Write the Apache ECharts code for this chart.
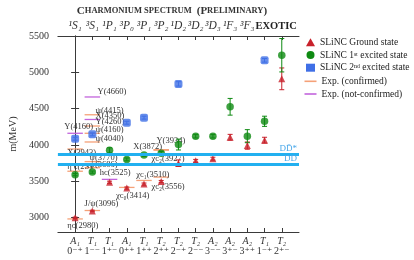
<!DOCTYPE html>
<html><head><meta charset="utf-8">
<script src="https://cdn.jsdelivr.net/npm/echarts@6/dist/echarts.min.js"></script>
<style>html,body{margin:0;padding:0;background:#fff}#c{width:414px;height:260px}</style>
</head><body><div id="c"></div>
<script>
// ---- data ----
const categories = [0,1,2,3,4,5,6,7,8,9,10,11,12];
const irreps = ['A₁','T₁','T₁','A₁','T₁','T₂','T₂','T₂','A₂','A₂','A₂','T₁','T₂'];
const jpc = ['0⁻⁺','1⁻⁻','1⁺⁻','0⁺⁺','1⁺⁺','2⁺⁺','2⁻⁺','2⁻⁻','3⁻⁻','3⁺⁻','3⁺⁺','1⁻⁺','2⁺⁻'];
const spectro = ['¹S₁','³S₁','¹P₁','³P₀','³P₁','³P₂','¹D₂','³D₂','³D₃','¹F₃','³F₃'];
const exoticLabel = 'EXOTIC';
const exoticPos = 11.5;
const yTicks = [3000,3500,4000,4500,5000,5500];

const groundMass = [2995,3090,3485,3405,3460,3495,3748,3780,3810,4105,3990,4065,4910];
const groundErr  = [10,10,15,15,15,15,45,20,20,40,50,40,150];
const exc1Mass = [3590,3625,3925,3800,3862,3885,4005,4120,4120,4525,4120,4325,5235];
const exc1Err  = [15,15,35,20,20,25,75,25,25,115,90,70,230];
const exc2Cat  = [0,1,3,4,6,11];
const exc2Mass = [4085,4145,4305,4375,4840,5165];
const exc2Err  = [20,20,20,20,30,25];

const expCat  = [0,0,0,0,1,1,1,1,1,1,1,1,1,2,3,4,4,5,5,5];
const expMass = [2980,3637,3943,4160,3096,3686,3770,4040,4160,4260,4350,4415,4660,3525,3414,3510,3872,3556,3927,3934];
const expName = ['ηc(2980)','η′c(2S)','X(3943)','Y(4160)','J/ψ(3096)','ψ(3686)','ψ(3770)','ψ(4040)','ψ(4160)','Y(4260)','X(4350)','ψ(4415)','Y(4660)','hc(3525)','χc₀(3414)','χc₁(3510)','X(3872)','χc₂(3556)','χc₂(3927)','Y(3934)'];
const expConfirmed = [1,1,1,0,1,1,1,1,1,1,0,1,0,0,1,1,1,1,1,1];

const thresholdMass = [3872,3730];
const thresholdName = ['DD̄*','DD̄'];

// ---- layout (label offsets in px, relative to left end of each line) ----
const expLabelDx = [0,0,0,-3,0,5,5,11,11,11,11,11,13,-2,-3,0,-3,-2,-2,3];
const expLabelDy = [7,-4,4,-7,-7,-3,-4,-3.5,-3.5,-4,-3.5,-3.5,-5,-6.5,8.5,-5.5,-7,10,9,-9];

const FONT = '"Liberation Serif", "DejaVu Serif", serif';
const C_RED = '#c8212b', C_GREEN = '#0e8a12', C_BLUE = '#3f6fe6', C_ORANGE = '#f5a178', C_PURPLE = '#c264dc', C_DD = '#22b0f0';
const AXIS = '#3a3a3a';

function errRender(params, api) {
  const x = api.value(0), m = api.value(1), e = api.value(2);
  const t = api.coord([x, m + e]), b = api.coord([x, m - e]);
  const st = { stroke: api.visual('color'), lineWidth: 1 };
  return { type: 'group', children: [
    { type: 'line', shape: { x1: t[0], y1: t[1], x2: b[0], y2: b[1] }, style: st },
    { type: 'line', shape: { x1: t[0]-2.5, y1: t[1], x2: t[0]+2.5, y2: t[1] }, style: st },
    { type: 'line', shape: { x1: b[0]-2.5, y1: b[1], x2: b[0]+2.5, y2: b[1] }, style: st }
  ]};
}
function expRender(params, api) {
  const c = api.value(0), m = api.value(1), k = api.value(2);
  const p1 = api.coord([c - 0.45, m]), p2 = api.coord([c + 0.45, m]);
  return { type: 'group', children: [
    { type: 'line', shape: { x1: p1[0], y1: p1[1], x2: p2[0], y2: p2[1] }, style: { stroke: api.visual('color'), lineWidth: 1.3 } },
    { type: 'text', x: p1[0] + expLabelDx[k], y: p1[1] + expLabelDy[k], z2: 5,
      style: { text: expName[k], fill: '#333', font: '8.5px ' + FONT, align: 'left', verticalAlign: 'middle' } }
  ]};
}
function expData(flag) {
  const out = [];
  expCat.forEach((c, i) => { if (expConfirmed[i] === flag) out.push([c, expMass[i], i]); });
  return out;
}

const chart = echarts.init(document.getElementById('c'), null, { renderer: 'canvas' });
const axisCommon = {
  type: 'value', min: -1, max: 13,
  axisLine: { show: true, lineStyle: { color: AXIS, width: 1 } },
  splitLine: { show: false },
  axisTick: { inside: true, length: 4, lineStyle: { color: AXIS }, customValues: categories }
};
const legendText = { fontFamily: FONT, fontSize: 9.5, color: '#222', lineHeight: 11 };
chart.setOption({
  animation: false,
  title: {
    left: 172, top: 2, textAlign: 'center', padding: 0,
    text: '{b|C}{s|HARMONIUM SPECTRUM} {b|(P}{s|RELIMINARY}{b|)}',
    textStyle: { rich: {
      b: { fontFamily: FONT, fontSize: 11, color: '#333' },
      s: { fontFamily: FONT, fontSize: 8.5, color: '#333' }
    } }
  },
  grid: { left: 45, right: 115, top: 36, bottom: 28 },
  legend: [
    { orient: 'vertical', left: 306, top: 36.8, padding: 0, itemWidth: 9, itemHeight: 8, itemGap: 1.7,
      textStyle: legendText,
      data: [{ name: 'SLiNC Ground state', icon: 'triangle' },
             { name: 'SLiNC 1ˢᵗ excited state', icon: 'circle' },
             { name: 'SLiNC 2ⁿᵈ excited state', icon: 'rect' }] },
    { orient: 'vertical', left: 304.5, top: 75.8, padding: 0, itemWidth: 12, itemHeight: 1.6, itemGap: 1.7, icon: 'rect',
      textStyle: legendText,
      data: ['Exp. (confirmed)', 'Exp. (not-confirmed)'] }
  ],
  xAxis: [
    Object.assign({}, axisCommon, { position: 'bottom',
      axisLabel: { customValues: categories, margin: 4,
        formatter: v => `{i|${irreps[v]}}\n{n|${jpc[v]}}`,
        rich: { i: { fontFamily: FONT, fontStyle: 'italic', fontSize: 10, color: '#333', lineHeight: 10 },
                n: { fontFamily: FONT, fontSize: 10, color: '#333', lineHeight: 10 } } } }),
    Object.assign({}, axisCommon, { position: 'top',
      axisLabel: { customValues: categories.slice(0, 11), margin: 4,
        formatter: v => spectro[v],
        fontFamily: FONT, fontStyle: 'italic', fontSize: 11.5, color: '#333' } })
  ],
  yAxis: [
    { type: 'value', min: 2800, max: 5500, position: 'left',
      name: 'm(MeV)', nameLocation: 'middle', nameGap: 32,
      nameTextStyle: { fontFamily: FONT, fontSize: 10, color: '#333' },
      axisLine: { show: true, lineStyle: { color: AXIS } }, splitLine: { show: false },
      axisTick: { inside: true, length: 4, lineStyle: { color: AXIS }, customValues: yTicks },
      axisLabel: { customValues: yTicks, margin: 9, fontFamily: FONT, fontSize: 10, color: '#333', formatter: v => String(v) } },
    { type: 'value', min: 2800, max: 5500, position: 'right',
      axisLine: { show: true, lineStyle: { color: AXIS } }, splitLine: { show: false },
      axisTick: { inside: true, length: 4, lineStyle: { color: AXIS }, customValues: yTicks },
      axisLabel: { show: false } }
  ],
  series: [
    { name: 'thresholds', type: 'line', data: [], z: 1,
      markLine: { silent: true, symbol: 'none',
        lineStyle: { color: C_DD, width: 3, type: 'solid' },
        label: { position: 'insideEndTop', distance: [2, 1], color: '#4aa8ea', fontFamily: FONT, fontSize: 9,
                 formatter: p => thresholdName[thresholdMass.indexOf(p.value)] },
        data: thresholdMass.map(m => ({ yAxis: m })) } },
    { name: 'Exp. (confirmed)', type: 'custom', z: 2, itemStyle: { color: C_ORANGE },
      renderItem: expRender, encode: { x: 0, y: 1 }, data: expData(1) },
    { name: 'Exp. (not-confirmed)', type: 'custom', z: 2, itemStyle: { color: C_PURPLE },
      renderItem: expRender, encode: { x: 0, y: 1 }, data: expData(0) },
    { name: 'SLiNC Ground state', type: 'custom', z: 3, itemStyle: { color: C_RED }, renderItem: errRender,
      encode: { x: 0, y: 1 }, data: categories.map((c, i) => [c, groundMass[i], groundErr[i]]) },
    { name: 'SLiNC 1ˢᵗ excited state', type: 'custom', z: 3, itemStyle: { color: C_GREEN }, renderItem: errRender,
      encode: { x: 0, y: 1 }, data: categories.map((c, i) => [c, exc1Mass[i], exc1Err[i]]) },
    { name: 'SLiNC 2ⁿᵈ excited state', type: 'custom', z: 3, itemStyle: { color: C_BLUE }, renderItem: errRender,
      encode: { x: 0, y: 1 }, data: exc2Cat.map((c, i) => [c, exc2Mass[i], exc2Err[i]]) },
    { name: 'SLiNC Ground state', type: 'scatter', z: 4, symbol: 'triangle', symbolSize: 7,
      itemStyle: { color: C_RED }, data: categories.map((c, i) => [c, groundMass[i]]) },
    { name: 'SLiNC 1ˢᵗ excited state', type: 'scatter', z: 4, symbol: 'circle', symbolSize: 7.5,
      itemStyle: { color: C_GREEN }, data: categories.map((c, i) => [c, exc1Mass[i]]) },
    { name: 'SLiNC 2ⁿᵈ excited state', type: 'scatter', z: 4, symbol: 'roundRect', symbolSize: 8,
      itemStyle: { color: C_BLUE }, data: exc2Cat.map((c, i) => [c, exc2Mass[i]]) }
  ]
});
// EXOTIC header placed on the top axis scale
const exX = chart.convertToPixel({ xAxisIndex: 1 }, exoticPos);
const topY = chart.convertToPixel({ yAxisIndex: 0 }, 5500);
chart.setOption({
  graphic: [{ type: 'text', x: exX + 3, y: topY - 10, style: {
    text: exoticLabel, font: 'bold 10.5px ' + FONT, fill: '#222', align: 'center', verticalAlign: 'middle' } }]
});
</script>
</body></html>
